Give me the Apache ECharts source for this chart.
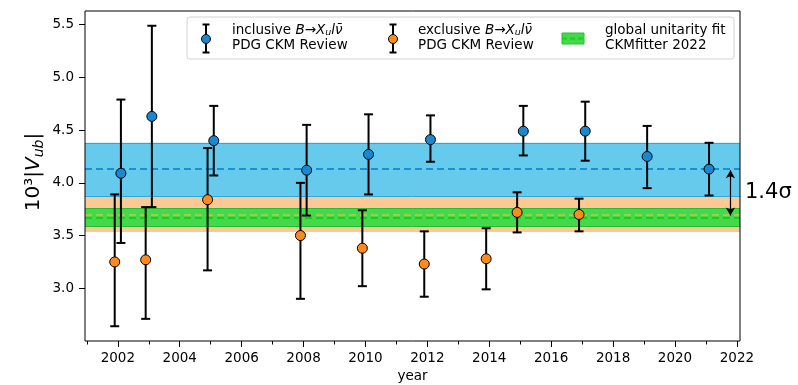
<!DOCTYPE html>
<html><head><meta charset="utf-8">
<script src="https://cdn.jsdelivr.net/npm/echarts@6/dist/echarts.min.js"></script>
<style>html,body{margin:0;padding:0;background:#fff}#c{width:798px;height:385px}</style>
</head><body><div id="c"></div><script>
// ---- data ----
const inclYears = [2002.1, 2003.1, 2005.1, 2008.1, 2010.1, 2012.1, 2015.1, 2017.1, 2019.1, 2021.1];
const inclVal   = [4.09, 4.63, 4.40, 4.12, 4.27, 4.41, 4.49, 4.49, 4.25, 4.13];
const inclHi    = [4.79, 5.49, 4.73, 4.55, 4.65, 4.64, 4.73, 4.77, 4.54, 4.38];
const inclLo    = [3.43, 3.77, 4.07, 3.69, 3.89, 4.20, 4.26, 4.21, 3.95, 3.88];

const exclYears = [2001.9, 2002.9, 2004.9, 2007.9, 2009.9, 2011.9, 2013.9, 2014.9, 2016.9];
const exclVal   = [3.25, 3.27, 3.84, 3.50, 3.38, 3.23, 3.28, 3.72, 3.70];
const exclHi    = [3.89, 3.77, 4.33, 4.00, 3.74, 3.54, 3.57, 3.91, 3.85];
const exclLo    = [2.64, 2.71, 3.17, 2.90, 3.02, 2.92, 2.99, 3.53, 3.54];

const inclAvg = 4.13, inclBand = [3.87, 4.38];
const exclAvg = 3.70, exclBand = [3.535, 3.86];
const fitVal  = 3.667, fitBand = [3.59, 3.757];
const tensionFrom = 4.12, tensionTo = 3.69, tensionX = 2021.79;
const tensionLabel = '1.4σ';

const xMajorTicks = [2002, 2004, 2006, 2008, 2010, 2012, 2014, 2016, 2018, 2020, 2022];
const xMinorTicks = [2001, 2003, 2005, 2007, 2009, 2011, 2013, 2015, 2017, 2019, 2021];
const yTicks = [3.0, 3.5, 4.0, 4.5, 5.0, 5.5];
const xRange = [2000.94, 2022.1];
const yRange = [2.5, 5.63];

// ---- styles ----
const FONT = 'DejaVu Sans';
const BLUE = '#1a88d0', ORANGE = '#ff8a1c';

function errRender(params, api) {
  const x = api.value(0), lo = api.value(1), hi = api.value(2);
  const p1 = api.coord([x, hi]), p2 = api.coord([x, lo]);
  const cw = 4.5;
  const st = {stroke: '#000', lineWidth: 2};
  return {type: 'group', children: [
    {type: 'line', shape: {x1: p1[0], y1: p1[1], x2: p2[0], y2: p2[1]}, style: st},
    {type: 'line', shape: {x1: p1[0]-cw, y1: p1[1], x2: p1[0]+cw, y2: p1[1]}, style: st},
    {type: 'line', shape: {x1: p2[0]-cw, y1: p2[1], x2: p2[0]+cw, y2: p2[1]}, style: st}
  ]};
}

function band(lo, hi, fill, edge, z) {
  return {
    type: 'line', data: [], z: z, silent: true,
    markArea: {silent: true, itemStyle: {color: fill, borderWidth: 0},
      data: [[{yAxis: lo}, {yAxis: hi}]]},
    markLine: {silent: true, symbol: 'none', label: {show: false},
      lineStyle: {color: edge, width: 1, type: 'solid'},
      data: [{yAxis: lo}, {yAxis: hi}]}
  };
}
function dashLine(v, color, z) {
  return {
    type: 'line', data: [], z: z, silent: true,
    markLine: {silent: true, symbol: 'none', label: {show: false},
      lineStyle: {color: color, width: 2, type: [7, 4]},
      data: [{yAxis: v}]}
  };
}

const richLegend = {
  n: {fontFamily: FONT, fontSize: 13.5, lineHeight: 15, fill: '#000'},
  i: {fontFamily: FONT, fontSize: 13.5, lineHeight: 15, fontStyle: 'italic', fill: '#000'},
  s: {fontFamily: FONT, fontSize: 9.5, lineHeight: 10, fontStyle: 'italic', verticalAlign: 'bottom', fill: '#000'}
};
function legendErr(x, color) {
  const st = {stroke: '#000', lineWidth: 2};
  return [
    {type: 'line', shape: {x1: x, y1: 24.5, x2: x, y2: 52.5}, style: st},
    {type: 'line', shape: {x1: x-3.5, y1: 24.5, x2: x+3.5, y2: 24.5}, style: st},
    {type: 'line', shape: {x1: x-3.5, y1: 52.5, x2: x+3.5, y2: 52.5}, style: st},
    {type: 'circle', shape: {cx: x, cy: 39, r: 4.5}, style: {fill: color, stroke: '#000', lineWidth: 1}}
  ];
}

const option = {
  animation: false,
  backgroundColor: '#fff',
  grid: {left: 85, top: 11, right: 58, bottom: 44, containLabel: false, outerBoundsMode: 'none',
         show: true, borderColor: '#000', borderWidth: 1, backgroundColor: 'transparent', z: 10},
  xAxis: [
    {type: 'value', min: xRange[0], max: xRange[1], position: 'bottom',
     axisLine: {show: false}, splitLine: {show: false},
     axisTick: {show: true, length: 6, customValues: xMajorTicks, lineStyle: {color: '#000', width: 1}},
     axisLabel: {show: true, customValues: xMajorTicks, margin: 10, color: '#000', fontFamily: FONT, fontSize: 13.5, formatter: v => String(Math.round(v))},
     name: 'year', nameLocation: 'middle', nameGap: 27,
     nameTextStyle: {color: '#000', fontFamily: FONT, fontSize: 13.5}},
    {type: 'value', min: xRange[0], max: xRange[1], position: 'bottom', offset: 0,
     axisLine: {show: false}, splitLine: {show: false},
     axisTick: {show: true, length: 3.5, customValues: xMinorTicks, lineStyle: {color: '#000', width: 1}},
     axisLabel: {show: false}}
  ],
  yAxis: {type: 'value', min: yRange[0], max: yRange[1],
    axisLine: {show: false}, splitLine: {show: false},
    axisTick: {show: true, length: 6, customValues: yTicks, lineStyle: {color: '#000', width: 1}},
    axisLabel: {show: true, customValues: yTicks, margin: 11, color: '#000', fontFamily: FONT, fontSize: 13.5, formatter: v => v.toFixed(1)}},
  series: [
    band(inclBand[0], inclBand[1], '#66caec', '#2aa8e0', 1),
    band(exclBand[0], exclBand[1], '#fcc894', '#fcc894', 2),
    band(fitBand[0], fitBand[1], '#44d94c', '#22c02e', 3),
    dashLine(inclAvg, '#1890d8', 4),
    dashLine(exclAvg, '#a8c84a', 4),
    dashLine(fitVal, '#18d018', 4),
    {type: 'line', data: [], z: 5, silent: true,
     markLine: {silent: true, symbol: ['arrow', 'arrow'], symbolSize: [7, 8], label: {show: false},
       lineStyle: {color: '#000', width: 1.2, type: 'solid'},
       data: [[{coord: [tensionX, tensionFrom]}, {coord: [tensionX, tensionTo]}]]}},
    {type: 'custom', z: 6, renderItem: errRender, encode: {x: 0, y: [1, 2]},
     data: inclYears.map((y, i) => [y, inclLo[i], inclHi[i]])},
    {type: 'custom', z: 6, renderItem: errRender, encode: {x: 0, y: [1, 2]},
     data: exclYears.map((y, i) => [y, exclLo[i], exclHi[i]])},
    {type: 'scatter', z: 7, symbol: 'circle', symbolSize: 10,
     itemStyle: {color: BLUE, borderColor: '#000', borderWidth: 1, opacity: 1},
     data: inclYears.map((y, i) => [y, inclVal[i]])},
    {type: 'scatter', z: 7, symbol: 'circle', symbolSize: 10,
     itemStyle: {color: ORANGE, borderColor: '#000', borderWidth: 1, opacity: 1},
     data: exclYears.map((y, i) => [y, exclVal[i]])}
  ],
  graphic: [
    {type: 'group', z: 100, children: [
      {type: 'rect', shape: {x: 187, y: 17, width: 547, height: 42, r: 3},
       style: {fill: 'rgba(255,255,255,0.85)', stroke: '#d4d4d4', lineWidth: 1}},
      ...legendErr(206, BLUE),
      {type: 'text', x: 232, y: 38, style: {
        text: '{n|inclusive }{i|B}{n|→}{i|X}{s|u}{i|l}{i|ν̄}\n{n|PDG CKM Review}',
        rich: richLegend, verticalAlign: 'middle', align: 'left'}},
      ...legendErr(393, ORANGE),
      {type: 'text', x: 418, y: 38, style: {
        text: '{n|exclusive }{i|B}{n|→}{i|X}{s|u}{i|l}{i|ν̄}\n{n|PDG CKM Review}',
        rich: richLegend, verticalAlign: 'middle', align: 'left'}},
      {type: 'rect', shape: {x: 562, y: 33, width: 22, height: 11},
       style: {fill: '#44d94c', stroke: '#22c02e', lineWidth: 1}},
      {type: 'line', shape: {x1: 562, y1: 38.5, x2: 584, y2: 38.5},
       style: {stroke: '#18d018', lineWidth: 2, lineDash: [5, 3]}},
      {type: 'text', x: 605, y: 38, style: {
        text: '{n|global unitarity fit}\n{n|CKMfitter 2022}',
        rich: richLegend, verticalAlign: 'middle', align: 'left'}}
    ]},
    {type: 'text', x: 34, y: 172, rotation: Math.PI / 2, z: 100, style: {
      text: '{n|10³|}{i|V}{s|ub}{n||}',
      rich: {
        n: {fontFamily: FONT, fontSize: 20, lineHeight: 24, fill: '#000'},
        i: {fontFamily: FONT, fontSize: 20, lineHeight: 24, fontStyle: 'italic', fill: '#000'},
        s: {fontFamily: FONT, fontSize: 14, lineHeight: 14, fontStyle: 'italic', verticalAlign: 'bottom', fill: '#000'}
      },
      align: 'center', verticalAlign: 'middle'}},
    {type: 'text', x: 745, y: 193, z: 100, style: {
      text: tensionLabel, fontFamily: FONT, fontSize: 21, fill: '#000',
      align: 'left', verticalAlign: 'middle'}}
  ]
};
const chart = echarts.init(document.getElementById('c'), null, {renderer: 'canvas'});
chart.setOption(option);
</script></body></html>
